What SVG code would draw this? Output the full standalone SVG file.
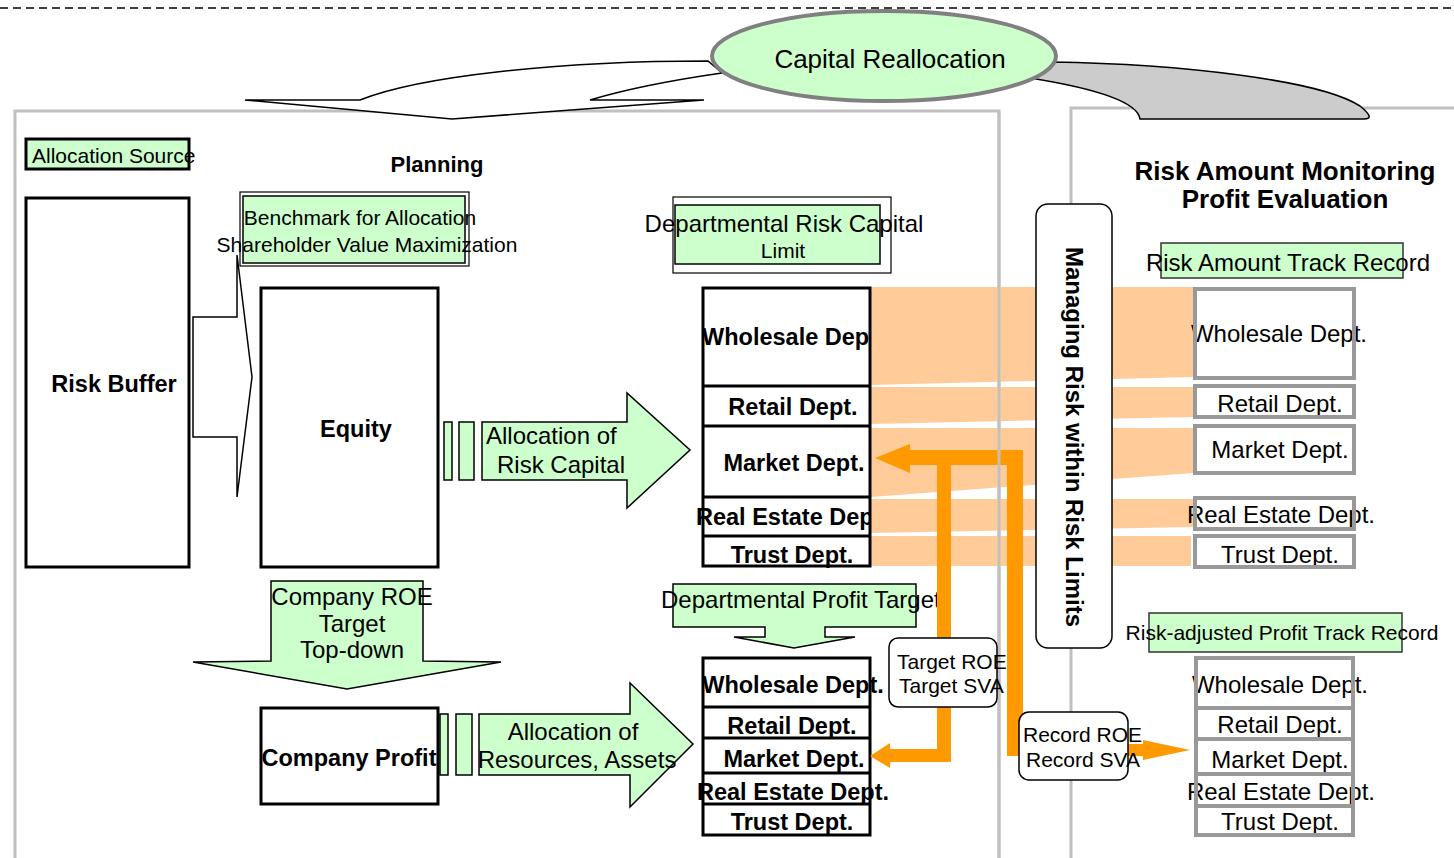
<svg xmlns="http://www.w3.org/2000/svg" width="1454" height="858" viewBox="0 0 1454 858">
<style>
text { font-family: "Liberation Sans", Arial, sans-serif; fill: #000; }
.r21 { font-size: 21px; }
.r24 { font-size: 24px; }
.b { font-weight: bold; }
.mid { text-anchor: middle; }
.dept { font-size: 23.5px; font-weight: bold; text-anchor: middle; }
.rdept { font-size: 24px; text-anchor: middle; }
.panel { fill: none; stroke: #c0c0c0; stroke-width: 3; }
.box { fill: #fff; stroke: #000; stroke-width: 3; }
.thin { fill: #fff; stroke: #000; stroke-width: 1.2; }
.green { fill: #ccffcc; stroke: #000; stroke-width: 1.5; }
.grayfill { fill: #fff; }
.graystroke { fill: none; stroke: #999; stroke-width: 4; }
.band { fill: #ffcc99; }
.orange { fill: #ff9900; }
.note { fill: #fff; stroke: #000; stroke-width: 1.5; }
</style>
<defs>
  <clipPath id="stackClip"><rect x="600" y="280" width="271" height="300"/></clipPath>
</defs>

<rect x="0" y="0" width="1454" height="858" fill="#fff"/>
<line x1="0" y1="8" x2="1454" y2="8" stroke="#000" stroke-width="1.3" stroke-dasharray="8 5"/>

<!-- section frames -->
<g id="frames">
  <rect class="panel" x="15" y="111" width="984" height="770"/>
  <rect class="panel" x="1071" y="108" width="420" height="770"/>
</g>

<!-- reallocation loop -->
<g id="reallocation-arrows">
  <path d="M 708,61 C 560,61 420,76 360,100 L 245,100 L 452,119 L 704,100 L 590,100 C 630,88 680,79 722,73 Z" fill="#fff" stroke="#000" stroke-width="1.5" stroke-linejoin="miter"/>
  <path d="M 1052,62 C 1180,64 1320,80 1360,106 Q 1376,119 1364,119 L 1140,119 C 1138,104 1105,90 1030,78 Z" fill="#cccccc" stroke="#000" stroke-width="1.5"/>
</g>
<g id="capital-reallocation">
  <ellipse cx="884" cy="56" rx="172" ry="45" fill="#ccffcc" stroke="#808080" stroke-width="4"/>
  <text class="mid" x="890" y="68" font-size="26">Capital Reallocation</text>
</g>

<!-- planning side -->
<g id="allocation-source">
  <rect x="26" y="139" width="163" height="30" fill="#ccffcc" stroke="#000" stroke-width="3"/>
  <text class="r21" x="32" y="163">Allocation Source</text>
</g>
<text id="planning-title" class="b mid" x="437" y="172" font-size="22">Planning</text>

<g id="risk-buffer">
  <rect class="box" x="26" y="198" width="163" height="369"/>
  <text class="b mid" x="114" y="392" font-size="23.5">Risk Buffer</text>
</g>

<g id="buffer-to-equity">
  <polygon points="193,317 237,317 237,255 252,377 237,497 237,437 193,437" fill="#fff" stroke="#000" stroke-width="1.5"/>
</g>

<g id="benchmark">
  <rect class="thin" x="240" y="192" width="229" height="74"/>
  <rect class="green" x="243" y="196" width="222" height="67"/>
  <text class="r21 mid" x="360" y="225">Benchmark for Allocation</text>
  <text class="r21 mid" x="367" y="252">Shareholder Value Maximization</text>
</g>

<g id="equity">
  <rect class="box" x="261" y="288" width="177" height="279"/>
  <text class="b mid" x="356" y="437" font-size="23.5">Equity</text>
</g>

<g id="risk-capital-allocation">
  <rect class="green" x="444" y="422" width="8" height="58"/>
  <rect class="green" x="459" y="422" width="15" height="58"/>
  <polygon class="green" points="482,422 627,422 627,393 690,450 627,508 627,480 482,480"/>
  <text class="r24" x="486" y="444">Allocation of</text>
  <text class="r24" x="497" y="473">Risk Capital</text>
</g>

<g id="risk-capital-limit">
  <rect class="thin" x="673" y="197" width="218" height="76"/>
  <rect class="green" x="675" y="205" width="205" height="59"/>
  <text class="r24 mid" x="784" y="232">Departmental Risk Capital</text>
  <text class="r21 mid" x="783" y="258">Limit</text>
</g>

<!-- risk flow bands -->
<g id="risk-bands">
  <polygon class="band" points="871,287 1193,287 1193,377 871,385"/>
  <polygon class="band" points="871,387 1193,387 1193,417 871,424"/>
  <polygon class="band" points="871,428 1193,428 1193,473 871,497"/>
  <polygon class="band" points="871,499 1193,499 1193,527 871,533"/>
  <polygon class="band" points="871,536 1191,536 1191,566 871,566"/>
</g>

<g id="risk-limit-stack">
  <rect class="box" x="703" y="288" width="167" height="278"/>
  <line x1="703" y1="386" x2="870" y2="386" stroke="#000" stroke-width="3"/>
  <line x1="703" y1="426" x2="870" y2="426" stroke="#000" stroke-width="3"/>
  <line x1="703" y1="497" x2="870" y2="497" stroke="#000" stroke-width="3"/>
  <line x1="703" y1="536" x2="870" y2="536" stroke="#000" stroke-width="3"/>
  <g clip-path="url(#stackClip)">
    <text class="b" x="702" y="345" font-size="23.5">Wholesale Dep</text>
    <text class="b" x="696" y="525" font-size="23.5">Real Estate Dep</text>
  </g>
  <text class="dept" x="793" y="415">Retail Dept.</text>
  <text class="dept" x="794" y="471">Market Dept.</text>
  <text class="dept" x="792" y="563">Trust Dept.</text>
</g>

<g id="company-roe-target">
  <polygon class="green" points="271,581 423,581 423,661 501,662 347,689 193,662 271,661"/>
  <text class="r24 mid" x="352" y="605">Company ROE</text>
  <text class="r24 mid" x="352" y="632">Target</text>
  <text class="r24 mid" x="352" y="658">Top-down</text>
</g>

<g id="company-profit">
  <rect class="box" x="261" y="708" width="177" height="96"/>
  <text class="b mid" x="349" y="766" font-size="23.5">Company Profit</text>
</g>

<g id="resource-allocation">
  <rect class="green" x="440" y="714" width="8" height="61"/>
  <rect class="green" x="456" y="714" width="16" height="61"/>
  <polygon class="green" points="479,714 630,714 630,683 693,744 630,807 630,775 479,775"/>
  <text class="r24 mid" x="573" y="740">Allocation of</text>
  <text class="r24 mid" x="577" y="768">Resources, Assets</text>
</g>

<g id="profit-target">
  <polygon class="green" points="673,584 916,584 916,627 825,627 825,637 855,637 794,648 734,637 765,637 765,627 673,627"/>
  <text class="r24" x="661" y="608">Departmental Profit Target</text>
</g>

<g id="profit-target-stack">
  <rect class="box" x="703" y="658" width="167" height="177"/>
  <line x1="703" y1="707" x2="870" y2="707" stroke="#000" stroke-width="3"/>
  <line x1="703" y1="738" x2="870" y2="738" stroke="#000" stroke-width="3"/>
  <line x1="703" y1="773" x2="870" y2="773" stroke="#000" stroke-width="3"/>
  <line x1="703" y1="804" x2="870" y2="804" stroke="#000" stroke-width="3"/>
  <text class="dept" x="793" y="693">Wholesale Dept.</text>
  <text class="dept" x="792" y="734">Retail Dept.</text>
  <text class="dept" x="794" y="767">Market Dept.</text>
  <text class="dept" x="793" y="800">Real Estate Dept.</text>
  <text class="dept" x="792" y="830">Trust Dept.</text>
</g>

<!-- feedback connectors -->
<g id="connectors">
  <rect class="orange" x="910" y="450" width="113" height="15"/>
  <polygon class="orange" points="875,458 910,444 910,473"/>
  <rect class="orange" x="1007" y="450" width="16" height="306"/>
  <rect class="orange" x="937" y="458" width="14" height="304"/>
  <rect class="orange" x="890" y="749" width="61" height="13"/>
  <polygon class="orange" points="870,756 890,743 890,768"/>
  <rect class="orange" x="1007" y="744" width="136" height="12"/>
  <polygon class="orange" points="1143,740 1190,750 1143,760"/>
</g>
<line id="frame-divider" x1="999" y1="111" x2="999" y2="858" stroke="#c0c0c0" stroke-width="3"/>

<g id="target-roe">
  <rect class="note" x="889" y="638" width="108" height="69" rx="9"/>
  <text class="r21" x="897" y="669">Target ROE</text>
  <text class="r21" x="899" y="693">Target SVA</text>
</g>

<g id="record-roe">
  <rect class="note" x="1019" y="712" width="109" height="68" rx="10"/>
  <text class="r21" x="1023" y="742">Record ROE</text>
  <text class="r21" x="1026" y="767">Record SVA</text>
</g>

<g id="managing-risk">
  <rect class="note" x="1036" y="204" width="76" height="444" rx="12"/>
  <text class="b mid" transform="translate(1066,437) rotate(90)" font-size="24">Managing Risk within Risk Limits</text>
</g>

<!-- monitoring side -->
<g id="monitoring-title">
  <text class="b mid" x="1285" y="180" font-size="26">Risk Amount Monitoring</text>
  <text class="b mid" x="1285" y="208" font-size="26">Profit Evaluation</text>
</g>

<g id="risk-track-record">
  <rect x="1161" y="243" width="242" height="35" fill="#ccffcc" stroke="#333" stroke-width="1.5"/>
  <text class="r24 mid" x="1288" y="271">Risk Amount Track Record</text>
</g>

<g id="risk-track-stack">
  <rect class="grayfill" x="1195" y="289" width="159" height="89"/>
  <rect class="grayfill" x="1195" y="386" width="159" height="31"/>
  <rect class="grayfill" x="1195" y="426" width="159" height="47"/>
  <rect class="grayfill" x="1195" y="498" width="159" height="31"/>
  <rect class="grayfill" x="1195" y="536" width="159" height="31"/>
  <text class="rdept" x="1279" y="342">Wholesale Dept.</text>
  <text class="rdept" x="1280" y="412">Retail Dept.</text>
  <text class="rdept" x="1280" y="458">Market Dept.</text>
  <text class="rdept" x="1281" y="523">Real Estate Dept.</text>
  <text class="rdept" x="1280" y="563">Trust Dept.</text>
  <rect class="graystroke" x="1195" y="289" width="159" height="89"/>
  <rect class="graystroke" x="1195" y="386" width="159" height="31"/>
  <rect class="graystroke" x="1195" y="426" width="159" height="47"/>
  <rect class="graystroke" x="1195" y="498" width="159" height="31"/>
  <rect class="graystroke" x="1195" y="536" width="159" height="31"/>
</g>

<g id="profit-track-record">
  <rect x="1149" y="613" width="253" height="39" fill="#ccffcc" stroke="#333" stroke-width="1.5"/>
  <text class="r21 mid" x="1282" y="640">Risk-adjusted Profit Track Record</text>
</g>

<g id="profit-track-stack">
  <rect class="grayfill" x="1196" y="658" width="157" height="177"/>
  <text class="rdept" x="1280" y="693">Wholesale Dept.</text>
  <text class="rdept" x="1280" y="733">Retail Dept.</text>
  <text class="rdept" x="1280" y="768">Market Dept.</text>
  <text class="rdept" x="1281" y="800">Real Estate Dept.</text>
  <text class="rdept" x="1280" y="830">Trust Dept.</text>
  <rect class="graystroke" x="1196" y="658" width="157" height="177"/>
  <line x1="1196" y1="708" x2="1353" y2="708" stroke="#999" stroke-width="4"/>
  <line x1="1196" y1="739" x2="1353" y2="739" stroke="#999" stroke-width="4"/>
  <line x1="1196" y1="774" x2="1353" y2="774" stroke="#999" stroke-width="4"/>
  <line x1="1196" y1="806" x2="1353" y2="806" stroke="#999" stroke-width="4"/>
</g>
</svg>
